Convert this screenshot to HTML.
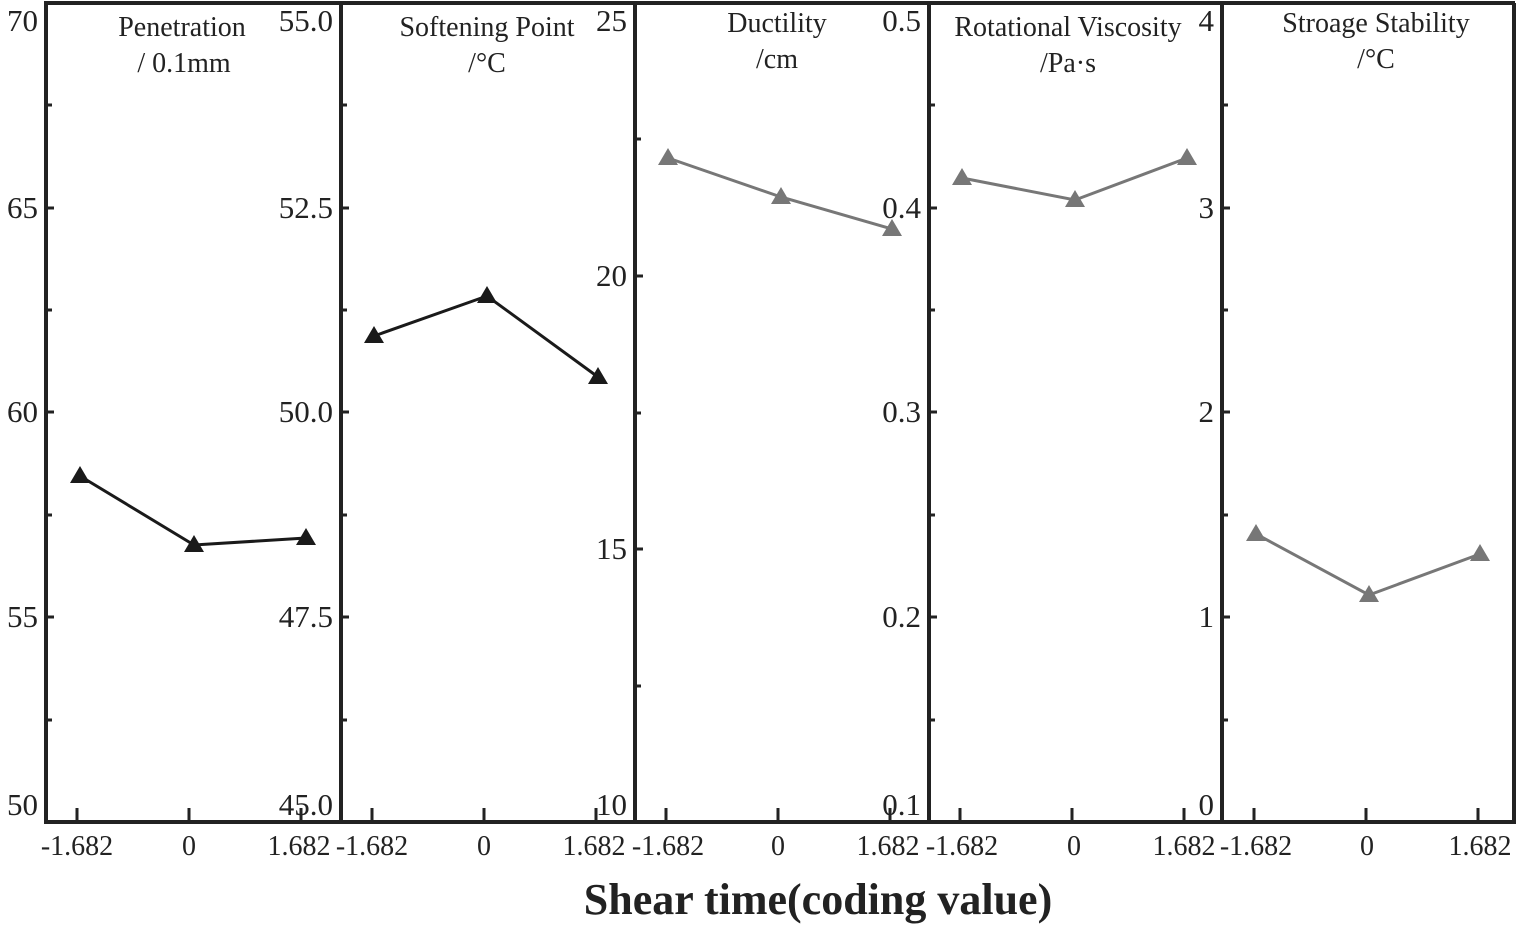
<!DOCTYPE html><html><head><style>body{margin:0;background:#fff}svg{display:block}</style></head><body>
<svg width="1517" height="929" xmlns="http://www.w3.org/2000/svg" font-family="Liberation Serif, serif">
<rect width="1517" height="929" fill="#fff"/>
<g stroke="#222" stroke-width="4" fill="none">
<line x1="46" y1="3" x2="1515" y2="3"/>
<line x1="1514" y1="3" x2="1514" y2="823"/>
<line x1="44" y1="822" x2="1516" y2="822"/>
<line x1="46" y1="1" x2="46" y2="824"/>
<line x1="341" y1="1" x2="341" y2="824"/>
<line x1="635" y1="1" x2="635" y2="824"/>
<line x1="929" y1="1" x2="929" y2="824"/>
<line x1="1222" y1="1" x2="1222" y2="824"/>
</g>
<g stroke="#222" stroke-width="3">
<path d="M77 822v-14M189 822v-14M301 822v-14M372 822v-14M484 822v-14M596 822v-14M666 822v-14M778 822v-14M890 822v-14M960 822v-14M1072 822v-14M1184 822v-14M1254 822v-14M1366 822v-14M1478 822v-14"/>
<path d="M46 105h6M46 208h8M46 310h6M46 412h8M46 515h6M46 617h8M46 720h6
M341 105h6M341 208h8M341 310h6M341 412h8M341 515h6M341 617h8M341 720h6
M635 139h6M635 276h8M635 413h6M635 549h8M635 686h6
M929 105h6M929 208h8M929 310h6M929 412h8M929 515h6M929 617h8M929 720h6
M1222 105h6M1222 208h8M1222 310h6M1222 412h8M1222 515h6M1222 617h8M1222 720h6"/>
</g>
<g font-size="31" fill="#222" text-anchor="end">
<text x="38" y="31">70</text><text x="38" y="218">65</text><text x="38" y="422">60</text><text x="38" y="627">55</text><text x="38" y="815">50</text>
<text x="333" y="31">55.0</text><text x="333" y="218">52.5</text><text x="333" y="422">50.0</text><text x="333" y="627">47.5</text><text x="333" y="815">45.0</text>
<text x="627" y="31">25</text><text x="627" y="286">20</text><text x="627" y="559">15</text><text x="627" y="815">10</text>
<text x="921" y="31">0.5</text><text x="921" y="218">0.4</text><text x="921" y="422">0.3</text><text x="921" y="627">0.2</text><text x="921" y="815">0.1</text>
<text x="1214" y="31">4</text><text x="1214" y="218">3</text><text x="1214" y="422">2</text><text x="1214" y="627">1</text><text x="1214" y="815">0</text>
</g>
<g font-size="28" fill="#222" text-anchor="middle">
<text x="77" y="855">-1.682</text><text x="189" y="855">0</text><text x="299" y="855">1.682</text>
<text x="372" y="855">-1.682</text><text x="484" y="855">0</text><text x="594" y="855">1.682</text>
<text x="668" y="855">-1.682</text><text x="778" y="855">0</text><text x="888" y="855">1.682</text>
<text x="962" y="855">-1.682</text><text x="1074" y="855">0</text><text x="1184" y="855">1.682</text>
<text x="1256" y="855">-1.682</text><text x="1367" y="855">0</text><text x="1480" y="855">1.682</text>
</g>
<g font-size="28" fill="#222" text-anchor="middle">
<text x="182" y="36">Penetration</text><text x="184" y="72">/ 0.1mm</text>
<text x="487" y="36">Softening Point</text><text x="487" y="72">/°C</text>
<text x="777" y="32">Ductility</text><text x="777" y="68">/cm</text>
<text x="1068" y="36">Rotational Viscosity</text><text x="1068" y="72">/Pa·s</text>
<text x="1376" y="32">Stroage Stability</text><text x="1376" y="68">/°C</text>
</g>
<text x="818" y="914" font-size="44" font-weight="bold" text-anchor="middle" fill="#222">Shear time(coding value)</text>
<g stroke-width="3" fill="none">
<polyline stroke="#1a1a1a" points="80,476 194,545 306,538"/>
<polyline stroke="#1a1a1a" points="374,336 487,296 598,377"/>
<polyline stroke="#777" points="668,158 781,197 892,229"/>
<polyline stroke="#777" points="962,178 1075,200 1187,158"/>
<polyline stroke="#777" points="1256,534 1369,595 1480,554"/>
</g>
<g>
<path fill="#1a1a1a" d="M80 466l10 17h-20zM194 535l10 17h-20zM306 528l10 17h-20zM374 326l10 17h-20zM487 286l10 17h-20zM598 367l10 17h-20z"/>
<path fill="#777" d="M668 148l10 17h-20zM781 187l10 17h-20zM892 219l10 17h-20zM962 168l10 17h-20zM1075 190l10 17h-20zM1187 148l10 17h-20zM1256 524l10 17h-20zM1369 585l10 17h-20zM1480 544l10 17h-20z"/>
</g>
</svg></body></html>
